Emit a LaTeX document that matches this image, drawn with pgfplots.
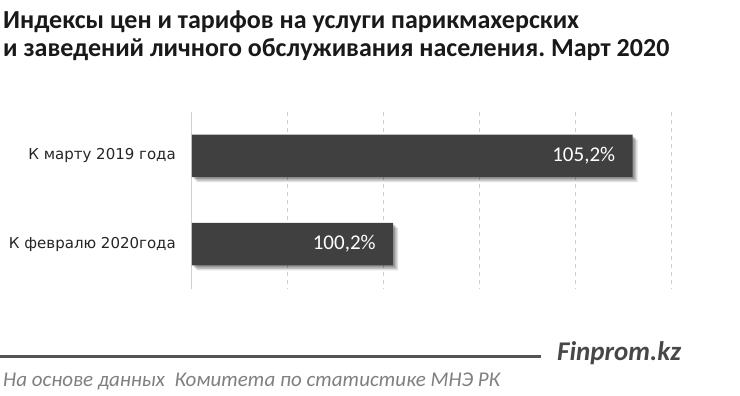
\documentclass[border=0pt]{standalone}
\usepackage{fontspec}
\setmainfont{Carlito}
\newfontfamily\dejavu{DejaVu Sans}
\usepackage{pgfplots}
\pgfplotsset{compat=1.18}
\usetikzlibrary{shadows}
\definecolor{barcol}{HTML}{404040}
\definecolor{gridcol}{HTML}{CFCFCF}
\frenchspacing
\begin{document}
\begin{tikzpicture}
\path[fill=white,use as bounding box] (0pt,0pt) rectangle (740pt,396pt);
% title
\node[anchor=base west,inner sep=0pt,font=\bfseries\fontsize{26}{30}\selectfont,text=black!90] at (3pt,367pt) {Индексы цен и тарифов на услуги парикмахерских};
\node[anchor=base west,inner sep=0pt,font=\bfseries\fontsize{26}{30}\selectfont,text=black!90] at (3pt,339pt) {и заведений личного обслуживания населения. Март 2020};
\begin{axis}[
  at={(192pt,107.7pt)}, anchor=south west,
  scale only axis, width=479pt, height=176.6pt,
  xbar, bar width=42.5pt,
  xmin=96, xmax=106, ymin=-0.5, ymax=1.5, y dir=reverse,
  xtick={96,98,...,106}, xticklabels={},
  ytick={0,1},
  yticklabels={К марту 2019 года, К февралю 2020года},
  yticklabel style={font=\dejavu\fontsize{15}{18}\selectfont, text=black!85, inner sep=0pt, xshift=-16pt},
  major tick length=0pt,
  xmajorgrids, major grid style={gridcol, dash pattern=on 4pt off 4pt, line width=1pt},
  axis lines*=left,
  x axis line style={draw=none},
  y axis line style={draw=gridcol, line width=1pt},
  point meta=x,
  nodes near coords={\pgfmathprintnumber[fixed,fixed zerofill,precision=1,use comma,assume math mode=true]{\pgfplotspointmeta}\%},
  every node near coord/.append style={anchor=east, xshift=-14pt, text=white, font=\fontsize{21}{24}\selectfont},
]
\addplot[fill=barcol, draw=none,
  drop shadow={shadow xshift=5pt, shadow yshift=-5pt, opacity=0.12, fill=black},
  drop shadow={shadow xshift=3.5pt, shadow yshift=-3.5pt, opacity=0.15, fill=black},
  drop shadow={shadow xshift=2pt, shadow yshift=-2pt, opacity=0.2, fill=black}] coordinates {(105.2,0) (100.2,1)};
\end{axis}
% footer
\draw[line width=3pt, color=black!67] (0pt,39.5pt) -- (541pt,39.5pt);
\node[anchor=west,inner sep=0pt,font=\bfseries\itshape\fontsize{27}{30}\selectfont,text=black!72] at (557pt,43pt) {Finprom.kz};
\node[anchor=west,inner sep=0pt,font=\itshape\fontsize{21}{24}\selectfont,text=black!50] at (3pt,15pt) {На основе данных\ \ Комитета по статистике МНЭ РК};
\end{tikzpicture}
\end{document}
